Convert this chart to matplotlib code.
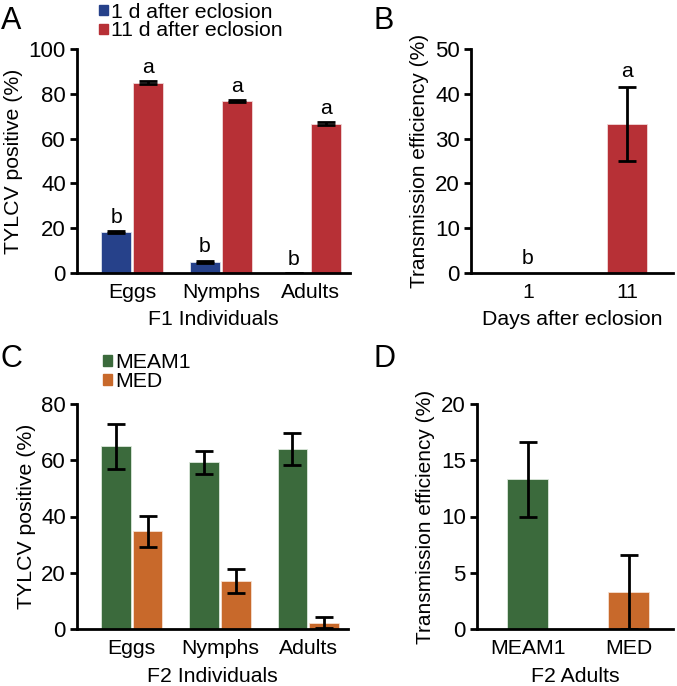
"""
four-panel TYLCV transmission figure
"""

import matplotlib
matplotlib.use('Agg')
import matplotlib.pyplot as plt
from matplotlib.patches import Patch
import numpy as np

plt.rcParams['font.family'] = ['Liberation Sans', 'DejaVu Sans']

# ---- data ----
# panel A: F1 individuals
a_groups = ['Eggs', 'Nymphs', 'Adults']
a_day1 = [18.2, 5.0, 0.0]
a_day1_err = [0.5, 0.5, 0.0]
a_day11 = [85.0, 76.7, 66.7]
a_day11_err = [0.5, 0.5, 0.5]
a_day1_letters = ['b', 'b', 'b']
a_day11_letters = ['a', 'a', 'a']

# panel B: transmission by day after eclosion
b_days = ['1', '11']
b_eff = [0.0, 33.3]
b_err = [0.0, 8.3]
b_letters = ['b', 'a']

# panel C: F2 individuals
c_groups = ['Eggs', 'Nymphs', 'Adults']
c_meam1 = [65.0, 59.3, 64.0]
c_meam1_err = [8.0, 4.1, 5.6]
c_med = [34.8, 17.1, 2.2]
c_med_err = [5.5, 4.3, 2.0]

# panel D: F2 adults
d_species = ['MEAM1', 'MED']
d_eff = [13.3, 3.3]
d_err = [3.3, 3.3]

col_blue = '#26418a'
col_red = '#b73036'
col_green = '#3b6a3c'
col_orange = '#c8692b'

fs = 15.3
tfs = 16


def style_axes(ax):
    ax.spines['top'].set_visible(False)
    ax.spines['right'].set_visible(False)
    ax.spines['left'].set_linewidth(2)
    ax.spines['bottom'].set_linewidth(2)
    ax.tick_params(axis='y', width=2, length=5, labelsize=tfs, pad=3)
    ax.tick_params(axis='x', length=0, labelsize=fs, pad=7)


fig = plt.figure(figsize=(6.77, 6.86), dpi=100)
W, H = 677, 686


def add_ax(x0, x1, ytop, ybot):
    return fig.add_axes([x0 / W, (H - ybot) / H, (x1 - x0) / W, (ybot - ytop) / H])


bw = 0.337
off = 0.18
ekw = dict(ecolor='black', elinewidth=2, capsize=6.5, capthick=2)

# ---- A ----
axA = add_ax(77, 350, 49, 273)
x = np.arange(len(a_groups))
axA.bar(x - off, a_day1, bw, color=col_blue, edgecolor='#dde3ee', linewidth=0.6,
        yerr=a_day1_err, error_kw=ekw)
axA.bar(x + off, a_day11, bw, color=col_red, edgecolor='#f1d8d9', linewidth=0.6,
        yerr=a_day11_err, error_kw=ekw)
for i in range(len(x)):
    axA.text(x[i] - off, a_day1[i] + a_day1_err[i] + 2, a_day1_letters[i],
             ha='center', va='bottom', fontsize=fs)
    axA.text(x[i] + off, a_day11[i] + a_day11_err[i] + 2, a_day11_letters[i],
             ha='center', va='bottom', fontsize=fs)
axA.set_xlim(-0.62, 2.45)
axA.set_ylim(0, 100)
axA.set_yticks([0, 20, 40, 60, 80, 100])
axA.set_xticks(x)
axA.set_xticklabels(a_groups)
axA.set_xlabel('F1 Individuals', fontsize=fs, labelpad=6)
axA.set_ylabel('TYLCV positive (%)', fontsize=fs, labelpad=4)
style_axes(axA)
axA.legend(handles=[Patch(color=col_blue, label='1 d after eclosion'),
                    Patch(color=col_red, label='11 d after eclosion')],
           loc='lower left', bbox_to_anchor=(0.05, 1.0), frameon=False,
           fontsize=fs, handlelength=0.4, handleheight=0.4, handletextpad=0.15,
           borderpad=0, labelspacing=0.0, borderaxespad=0.4)

# ---- B ----
axB = add_ax(471, 673, 49, 273)
xb = np.arange(len(b_days))
axB.bar(xb, b_eff, 0.40, color=col_red, edgecolor='#f1d8d9', linewidth=0.6)
axB.errorbar(xb[1:], b_eff[1:], yerr=b_err[1:], fmt='none', **ekw)
for i in range(len(xb)):
    axB.text(xb[i], b_eff[i] + b_err[i] + 1.2, b_letters[i],
             ha='center', va='bottom', fontsize=fs)
axB.set_xlim(-0.576, 1.465)
axB.set_ylim(0, 50)
axB.set_yticks([0, 10, 20, 30, 40, 50])
axB.set_xticks(xb)
axB.set_xticklabels(b_days)
axB.set_xlabel('Days after eclosion', fontsize=fs, labelpad=6)
axB.set_ylabel('Transmission efficiency (%)', fontsize=15, labelpad=4)
style_axes(axB)

# ---- C ----
axC = add_ax(77, 348, 404, 629)
xc = np.arange(len(c_groups))
axC.bar(xc - off, c_meam1, bw, color=col_green, edgecolor='#dce8dc', linewidth=0.6,
        yerr=c_meam1_err, error_kw=ekw)
axC.bar(xc + off, c_med, bw, color=col_orange, edgecolor='#f5e0d2', linewidth=0.6,
        yerr=c_med_err, error_kw=ekw)
axC.set_xlim(-0.62, 2.45)
axC.set_ylim(0, 80)
axC.set_yticks([0, 20, 40, 60, 80])
axC.set_xticks(xc)
axC.set_xticklabels(c_groups)
axC.set_xlabel('F2 Individuals', fontsize=fs, labelpad=7)
axC.set_ylabel('TYLCV positive (%)', fontsize=fs, labelpad=4)
style_axes(axC)
axC.legend(handles=[Patch(color=col_green, label='MEAM1'),
                    Patch(color=col_orange, label='MED')],
           loc='lower left', bbox_to_anchor=(0.05, 1.0), frameon=False,
           fontsize=fs, handlelength=0.4, handleheight=0.4, handletextpad=0.15,
           borderpad=0, labelspacing=0.0, borderaxespad=0.6)

# ---- D ----
axD = add_ax(477, 673, 404, 629)
xd = np.arange(len(d_species))
axD.bar(xd, d_eff, 0.41, color=[col_green, col_orange],
        edgecolor=['#dce8dc', '#f5e0d2'], linewidth=0.6,
        yerr=d_err, error_kw=ekw)
axD.set_xlim(-0.5, 1.44)
axD.set_ylim(0, 20)
axD.set_yticks([0, 5, 10, 15, 20])
axD.set_xticks(xd)
axD.set_xticklabels(d_species)
axD.set_xlabel('F2 Adults', fontsize=fs, labelpad=7)
axD.set_ylabel('Transmission efficiency (%)', fontsize=15, labelpad=4)
style_axes(axD)

# panel letters
for lbl, px, py in [('A', 1, 29), ('B', 374, 29), ('C', 1, 367), ('D', 374, 367)]:
    fig.text(px / W, 1 - py / H, lbl, fontsize=22, ha='left', va='baseline')

fig.savefig('out.png', dpi=100)
